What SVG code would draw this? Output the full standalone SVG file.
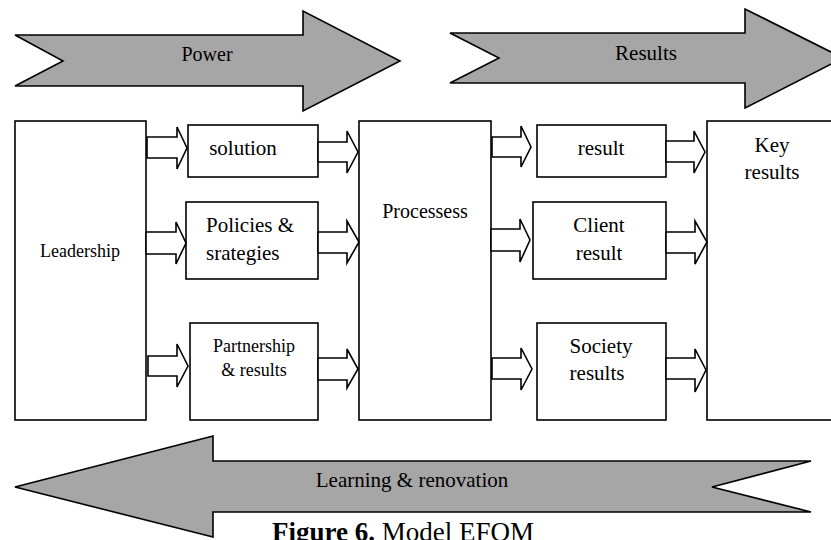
<svg xmlns="http://www.w3.org/2000/svg" width="831" height="540" viewBox="0 0 831 540">
  <style>
    .band { fill: #a6a6a6; stroke: #000; stroke-width: 1.6; stroke-linejoin: miter; }
    .box { fill: #fff; stroke: #000; stroke-width: 1.6; }
    .link { fill: #fff; stroke: #000; stroke-width: 1.6; stroke-linejoin: miter; }
    text { font-family: "Liberation Serif", "Times New Roman", serif; fill: #000; }
    .t21 { font-size: 21px; }
    .t20 { font-size: 20px; }
    .t18 { font-size: 18px; }
    .mid { text-anchor: middle; }
  </style>
  <rect width="831" height="540" fill="#fff"/>

  <!-- wide banner arrows -->
  <g id="power">
    <path class="band" d="M15,35 L303,35 L303,11 L400,61 L303,111 L303,86 L15,86 L63,61 Z"/>
    <text class="t20 mid" x="207" y="61">Power</text>
  </g>
  <g id="results">
    <path class="band" d="M450,33 L745,33 L745,9 L843,58 L745,108 L745,83 L450,83 L499,58 Z"/>
    <text class="t21 mid" x="646" y="60">Results</text>
  </g>
  <g id="learning">
    <path class="band" d="M15,487 L213,436 L213,461 L811,461 L712,487 L811,512 L213,512 L213,537 Z"/>
    <text class="t21 mid" x="412" y="487">Learning &amp; renovation</text>
  </g>

  <!-- enablers -->
  <g id="leadership">
    <rect class="box" x="15" y="121" width="131" height="299"/>
    <text class="t18 mid" x="80" y="257">Leadership</text>
  </g>
  <g id="solution">
    <rect class="box" x="188" y="125" width="130" height="52"/>
    <text class="t21 mid" x="243" y="155">solution</text>
  </g>
  <g id="policies">
    <rect class="box" x="186" y="202" width="132" height="77"/>
    <text class="t21" x="206" y="232">Policies &amp;</text>
    <text class="t21" x="206" y="260">srategies</text>
  </g>
  <g id="partnership">
    <rect class="box" x="190" y="323" width="128" height="97"/>
    <text class="t18 mid" x="254" y="352">Partnership</text>
    <text class="t18 mid" x="254" y="376">&amp; results</text>
  </g>
  <g id="processess">
    <rect class="box" x="359" y="121" width="132" height="299"/>
    <text class="t20 mid" x="425" y="218">Processess</text>
  </g>

  <!-- results -->
  <g id="result">
    <rect class="box" x="537" y="125" width="129" height="52"/>
    <text class="t21 mid" x="601" y="155">result</text>
  </g>
  <g id="client">
    <rect class="box" x="533" y="202" width="133" height="77"/>
    <text class="t21 mid" x="599" y="232">Client</text>
    <text class="t21 mid" x="599" y="260">result</text>
  </g>
  <g id="society">
    <rect class="box" x="537" y="323" width="129" height="97"/>
    <text class="t21 mid" x="601" y="353">Society</text>
    <text class="t21 mid" x="597" y="380">results</text>
  </g>
  <g id="key-results">
    <rect class="box" x="707" y="121" width="130" height="299"/>
    <text class="t21 mid" x="772" y="152">Key</text>
    <text class="t21 mid" x="772" y="179">results</text>
  </g>

  <!-- hollow block-arrow connectors -->
  <g id="connectors">
    <path class="link" d="M147,137 L177,137 L177,127 L187,148 L177,169 L177,158 L147,158 Z"/>
    <path class="link" d="M146,232 L176,232 L176,222 L186,243 L176,264 L176,254 L146,254 Z"/>
    <path class="link" d="M148,356 L177,356 L177,344 L188,366 L177,387 L177,376 L148,376 Z"/>

    <path class="link" d="M318,142 L347,142 L347,131 L358,152 L347,173 L347,162 L318,162 Z"/>
    <path class="link" d="M318,232 L347,232 L347,221 L359,242 L347,263 L347,253 L318,253 Z"/>
    <path class="link" d="M318,358 L347,358 L347,349 L358,369 L347,388 L347,380 L318,380 Z"/>

    <path class="link" d="M492,137 L521,137 L521,126 L531,147 L521,167 L521,157 L492,157 Z"/>
    <path class="link" d="M491,229 L520,229 L520,219 L530,240 L520,262 L520,251 L491,251 Z"/>
    <path class="link" d="M492,358 L521,358 L521,348 L532,369 L521,390 L521,379 L492,379 Z"/>

    <path class="link" d="M666,141 L694,141 L694,131 L705,152 L694,173 L694,162 L666,162 Z"/>
    <path class="link" d="M666,232 L695,232 L695,221 L707,242 L695,264 L695,253 L666,253 Z"/>
    <path class="link" d="M666,358 L695,358 L695,349 L706,370 L695,392 L695,379 L666,379 Z"/>
  </g>

  <!-- caption -->
  <text x="272" y="541" font-size="27"><tspan font-weight="bold">Figure 6.</tspan> Model EFQM</text>
</svg>
